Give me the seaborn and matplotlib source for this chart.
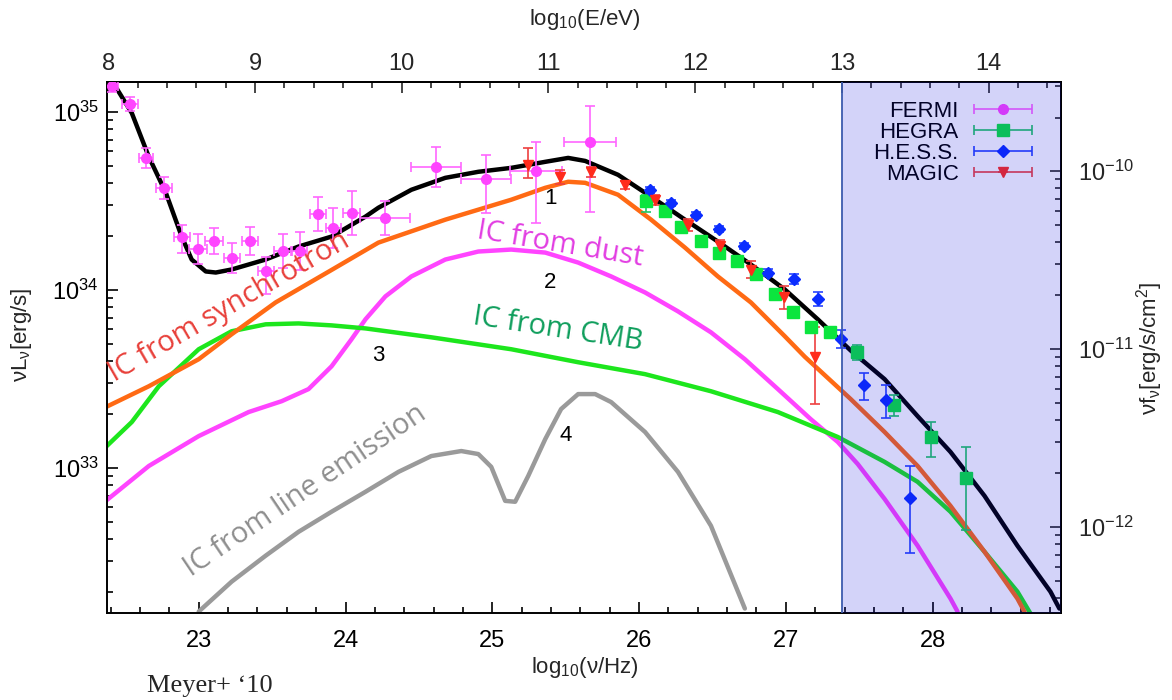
import numpy as np
import pandas as pd
import matplotlib
matplotlib.use("Agg")
import matplotlib.pyplot as plt
import seaborn as sns
from matplotlib.ticker import MultipleLocator, LogLocator, NullFormatter, FixedLocator
from matplotlib.container import ErrorbarContainer
from matplotlib.legend_handler import HandlerErrorbar

# ---------------------------------------------------------------------------
# Model components: log10(nu/Hz) and log10(nu L_nu / erg s^-1)
# ---------------------------------------------------------------------------
total_lognu = [22.410, 22.435, 22.544, 22.660, 22.776, 22.884, 22.952, 23.048, 23.116,
               23.224, 23.456, 23.680, 23.905, 24.136, 24.224, 24.449, 24.680, 24.905,
               25.129, 25.361, 25.517, 25.633, 25.857, 26.082, 26.313, 26.537, 26.762,
               26.993, 27.218, 27.442, 27.673, 27.898, 28.122, 28.354, 28.578, 28.803, 28.864]
total_logL = [35.180, 35.140, 34.994, 34.748, 34.546, 34.300, 34.171, 34.104, 34.098,
              34.115, 34.171, 34.244, 34.300, 34.412, 34.462, 34.563, 34.630, 34.664,
              34.686, 34.720, 34.742, 34.725, 34.647, 34.524, 34.395, 34.272, 34.143,
              34.003, 33.835, 33.660, 33.499, 33.291, 33.090, 32.843, 32.563, 32.305, 32.210]

sync_lognu = [22.367, 22.660, 23.000, 23.224, 23.524, 23.900, 24.224, 24.680, 25.129, 25.361,
              25.517, 25.633, 25.857, 26.082, 26.313, 26.537, 26.762, 26.993, 27.129,
              27.442, 27.673, 27.898, 28.122, 28.354, 28.578, 28.626]
sync_logL = [33.342, 33.459, 33.611, 33.751, 33.930, 34.110, 34.266, 34.395, 34.507, 34.574,
             34.608, 34.602, 34.535, 34.395, 34.238, 34.076, 33.930, 33.740, 33.625,
             33.387, 33.202, 33.011, 32.787, 32.529, 32.266, 32.193]

dust_lognu = [22.367, 22.660, 23.000, 23.340, 23.565, 23.748, 23.905, 24.041, 24.136,
              24.272, 24.449, 24.680, 24.905, 25.129, 25.361, 25.585, 25.810, 26.041,
              26.265, 26.490, 26.721, 26.946, 27.170, 27.354, 27.490, 27.673, 27.898,
              28.122, 28.170]
dust_logL = [32.815, 33.011, 33.179, 33.314, 33.375, 33.443, 33.571, 33.723, 33.835,
             33.964, 34.076, 34.171, 34.216, 34.227, 34.210, 34.154, 34.076, 33.986,
             33.880, 33.762, 33.611, 33.443, 33.274, 33.146, 33.022, 32.826, 32.563,
             32.266, 32.193]

cmb_lognu = [22.367, 22.544, 22.728, 23.000, 23.224, 23.456, 23.680, 23.905, 24.136,
             24.585, 25.129, 25.585, 26.041, 26.490, 26.946, 27.354, 27.673, 27.898,
             28.122, 28.354, 28.578, 28.667]
cmb_logL = [33.118, 33.258, 33.459, 33.667, 33.768, 33.807, 33.812, 33.801, 33.784,
            33.734, 33.667, 33.594, 33.527, 33.431, 33.314, 33.174, 33.034, 32.922,
            32.754, 32.529, 32.305, 32.182]

line_lognu = [23.000, 23.224, 23.456, 23.680, 23.905, 24.136, 24.361, 24.585, 24.789,
              24.905, 24.993, 25.088, 25.156, 25.245, 25.361, 25.469, 25.585, 25.701,
              25.810, 26.041, 26.265, 26.490, 26.721]
line_logL = [32.193, 32.361, 32.507, 32.641, 32.754, 32.866, 32.978, 33.067, 33.095,
             33.078, 33.006, 32.815, 32.810, 32.955, 33.162, 33.331, 33.415, 33.415,
             33.370, 33.202, 32.978, 32.675, 32.210]

# ---------------------------------------------------------------------------
# Measurements (log10 values; errors in dex / decades)
# ---------------------------------------------------------------------------
fermi_lognu = [22.408, 22.531, 22.639, 22.762, 22.884, 22.993, 23.102, 23.224, 23.347, 23.456,
               23.571, 23.687, 23.810, 23.918, 24.041, 24.272, 24.619, 24.959, 25.299, 25.667]
fermi_logL = [35.146, 35.045, 34.742, 34.574, 34.300, 34.232, 34.277, 34.182, 34.277, 34.109,
              34.221, 34.221, 34.429, 34.350, 34.434, 34.406, 34.692, 34.625, 34.669, 34.832]
fermi_dnu = [0.041, 0.054, 0.048, 0.054, 0.054, 0.061, 0.061, 0.054, 0.054, 0.054,
             0.061, 0.054, 0.054, 0.054, 0.061, 0.170, 0.170, 0.170, 0.177, 0.177]
fermi_lo = [0.034, 0.039, 0.056, 0.062, 0.095, 0.084, 0.073, 0.084, 0.078, 0.129,
            0.095, 0.106, 0.095, 0.112, 0.123, 0.095, 0.112, 0.190, 0.291, 0.392]
fermi_hi = [0.034, 0.039, 0.056, 0.062, 0.067, 0.084, 0.073, 0.084, 0.078, 0.078,
            0.095, 0.106, 0.095, 0.112, 0.123, 0.095, 0.112, 0.134, 0.162, 0.202]

hegra_lognu = [26.048, 26.177, 26.286, 26.422, 26.544, 26.667, 26.796, 26.925, 27.048,
               27.170, 27.299, 27.483, 27.735, 27.986, 28.231]
hegra_logL = [34.501, 34.445, 34.356, 34.277, 34.210, 34.160, 34.087, 33.975, 33.874,
              33.790, 33.762, 33.650, 33.353, 33.174, 32.944]
hegra_lo = [0.062, 0.020, 0.020, 0.020, 0.020, 0.020, 0.020, 0.020, 0.020,
            0.020, 0.020, 0.042, 0.062, 0.112, 0.291]
hegra_hi = [0.030, 0.020, 0.020, 0.020, 0.020, 0.020, 0.020, 0.020, 0.020,
            0.020, 0.020, 0.042, 0.056, 0.084, 0.174]

hess_lognu = [26.075, 26.218, 26.388, 26.544, 26.714, 26.878, 27.054, 27.218, 27.374,
              27.531, 27.680, 27.844]
hess_logL = [34.563, 34.490, 34.423, 34.345, 34.249, 34.098, 34.064, 33.947, 33.723,
             33.465, 33.381, 32.832]
hess_lo = [0.017, 0.017, 0.017, 0.017, 0.017, 0.022, 0.028, 0.039, 0.050, 0.084, 0.101, 0.308]
hess_hi = [0.017, 0.017, 0.017, 0.017, 0.017, 0.022, 0.028, 0.039, 0.050, 0.067, 0.084, 0.179]

magic_lognu = [25.245, 25.463, 25.673, 25.905, 26.109, 26.333, 26.551, 26.762, 26.986, 27.197]
magic_logL = [34.703, 34.636, 34.664, 34.591, 34.507, 34.367, 34.249, 34.115, 33.958, 33.622]
magic_lo = [0.073, 0.039, 0.028, 0.022, 0.028, 0.034, 0.034, 0.045, 0.067, 0.263]
magic_hi = [0.095, 0.039, 0.028, 0.022, 0.028, 0.034, 0.034, 0.045, 0.067, 0.168]

# axis tick values
nu_ticks = [23, 24, 25, 26, 27, 28]
energy_ticks = [8, 9, 10, 11, 12, 13, 14]
flux_ticks = [1e-12, 1e-11, 1e-10]

# log10(h / eV s): converts frequency to photon energy for the top axis
LOG_H_EV = -14.383
# log10 of the luminosity-to-flux factor (4 pi d^2) for the right axis
LOG_FLUX_FACTOR = 44.668
IACT_EDGE = 27.383  # log10(nu) corresponding to E = 10 TeV

component_names = ["4", "2", "3", "sync", "1"]
component_data = {
    "4": (line_lognu, line_logL),
    "2": (dust_lognu, dust_logL),
    "3": (cmb_lognu, cmb_logL),
    "sync": (sync_lognu, sync_logL),
    "1": (total_lognu, total_logL),
}
palette = {"4": "#9a9a9a", "2": "#ff44ff", "3": "#1de61d", "sync": "#ff6a14", "1": "#000000"}

frames = []
for name in component_names:
    lx, ly = component_data[name]
    frames.append(pd.DataFrame({"lognu": lx, "nuLnu": 10.0 ** np.asarray(ly),
                                "component": name}))
curves = pd.concat(frames, ignore_index=True)

# ---------------------------------------------------------------------------
sns.set_theme(style="ticks")
plt.rcParams["font.family"] = ["Liberation Sans", "DejaVu Sans"]
plt.rcParams["mathtext.fontset"] = "custom"
plt.rcParams["mathtext.rm"] = "Liberation Sans"
plt.rcParams["mathtext.it"] = "Liberation Sans:italic"
plt.rcParams["mathtext.default"] = "regular"
plt.rcParams["axes.unicode_minus"] = False

fig = plt.figure(figsize=(11.72, 7.0), dpi=100)
ax = fig.add_axes([107 / 1172, 1 - 613 / 700, (1061 - 107) / 1172, (613 - 82) / 700])
ax.set_yscale("log")
xlim = (22.375, 28.875)
ax.set_xlim(*xlim)
ax.set_ylim(10 ** 32.185, 10 ** 35.1685)

sns.lineplot(data=curves, x="lognu", y="nuLnu", hue="component", hue_order=component_names,
             palette=palette, units="component", estimator=None, sort=False,
             linewidth=3.2, legend=False, ax=ax, zorder=2)
ax.set_xlabel("")
ax.set_ylabel("")


def log_errorbar(lognu, logL, lo, hi, dnu=None, **kw):
    lognu = np.asarray(lognu)
    logL = np.asarray(logL)
    y = 10.0 ** logL
    yerr = [y - 10.0 ** (logL - np.asarray(lo)), 10.0 ** (logL + np.asarray(hi)) - y]
    return ax.errorbar(lognu, y, yerr=yerr, xerr=dnu, linestyle="none", zorder=3, **kw)


h_fermi = log_errorbar(fermi_lognu, fermi_logL, fermi_lo, fermi_hi, dnu=fermi_dnu,
                       marker="o", ms=7, color="#ff44ff", ecolor="#ff66ff",
                       elinewidth=1.2, capsize=3.5, capthick=1.2, label="FERMI")
h_hegra = log_errorbar(hegra_lognu, hegra_logL, hegra_lo, hegra_hi,
                       dnu=np.zeros(len(hegra_lognu)),
                       marker="s", ms=8.5, color="#0be53e", ecolor="#22c766",
                       elinewidth=1.2, capsize=3.5, capthick=1.2, label="HEGRA")
h_hess = log_errorbar(hess_lognu, hess_logL, hess_lo, hess_hi,
                      dnu=np.zeros(len(hess_lognu)),
                      marker="D", ms=6.5, color="#0b2dff", ecolor="#2844ff",
                      elinewidth=1.2, capsize=3.5, capthick=1.2, label="H.E.S.S.")
h_magic = log_errorbar(magic_lognu, magic_logL, magic_lo, magic_hi,
                       dnu=np.zeros(len(magic_lognu)),
                       marker="v", ms=7.5, color="#ff2b1c", ecolor="#ee4040",
                       elinewidth=1.2, capsize=3.5, capthick=1.2, label="MAGIC")

# IACT band above 10 TeV
ax.axvspan(IACT_EDGE, xlim[1], facecolor=(16 / 255, 16 / 255, 227 / 255), alpha=0.18,
           edgecolor="none", zorder=4)
ax.axvline(IACT_EDGE, color="#3d5cae", lw=1.3, zorder=4)

# ticks
ax.xaxis.set_major_locator(FixedLocator(nu_ticks))
ax.xaxis.set_minor_locator(MultipleLocator(0.2))
ax.yaxis.set_major_locator(LogLocator(base=10))
ax.yaxis.set_minor_locator(LogLocator(base=10, subs=np.arange(2, 10)))
ax.yaxis.set_minor_formatter(NullFormatter())
ax.tick_params(which="both", direction="in", top=False, right=False, colors="black",
               labelsize=17, width=1.2)
ax.tick_params(which="major", length=8)
ax.tick_params(which="minor", length=4)
ax.tick_params(axis="x", pad=12)
ax.tick_params(axis="y", pad=6)
for sp in ax.spines.values():
    sp.set_color("black")
    sp.set_linewidth(1.4)

top = ax.secondary_xaxis("top", functions=(lambda x: x + LOG_H_EV, lambda e: e - LOG_H_EV))
top.xaxis.set_major_locator(FixedLocator(energy_ticks))
top.xaxis.set_minor_locator(MultipleLocator(0.2))
top.tick_params(which="both", direction="in", labelsize=17, width=1.2, pad=5)
top.tick_params(which="major", length=8)
top.tick_params(which="minor", length=4)

right = ax.secondary_yaxis("right", functions=(lambda L: L / 10 ** LOG_FLUX_FACTOR,
                                               lambda f: f * 10 ** LOG_FLUX_FACTOR))
right.yaxis.set_major_locator(FixedLocator(flux_ticks))
right.yaxis.set_minor_locator(LogLocator(base=10, subs=np.arange(2, 10)))
right.yaxis.set_minor_formatter(NullFormatter())
right.tick_params(which="both", direction="in", labelsize=17, width=1.2, pad=12)
right.tick_params(which="major", length=8)
right.tick_params(which="minor", length=4)

# axis titles
fig.text(585 / 1172, 1 - 667 / 700, r"log$_{10}$(ν/Hz)", ha="center", va="center", fontsize=16)
fig.text(585 / 1172, 1 - 19 / 700, r"log$_{10}$(E/eV)", ha="center", va="center", fontsize=16)
fig.text(22 / 1172, 1 - 335 / 700, r"νL$_{ν}$[erg/s]", ha="center", va="center",
         rotation=90, fontsize=16)
fig.text(1150 / 1172, 1 - 348 / 700, r"νf$_{ν}$[erg/s/cm$^{2}$]", ha="center", va="center",
         rotation=90, fontsize=16)
fig.text(147 / 1172, 1 - 686 / 700, "Meyer+ \u201810", ha="left", va="center",
         fontsize=19, family="Liberation Serif")

# component annotations
lab_kw = dict(ha="center", va="center", rotation_mode="anchor", family="Open Sans",
              fontsize=21, zorder=3)
ax.text(25.463, 10 ** 34.255, "IC from dust", color="#e23de2", rotation=-9.5, **lab_kw)
ax.text(25.449, 10 ** 33.779, "IC from CMB", color="#0f9e5c", rotation=-8.7, **lab_kw)
ax.text(23.204, 10 ** 33.902, "IC from synchrotron", color="#e8403a", rotation=30, **lab_kw)
ax.text(23.728, 10 ** 32.871, "IC from line emission", color="#8e8e8e", rotation=34, **lab_kw)

num_kw = dict(ha="center", va="center", fontsize=16, color="black", zorder=3)
ax.text(25.395, 10 ** 34.513, "1", **num_kw)
ax.text(25.395, 10 ** 34.042, "2", **num_kw)
ax.text(24.224, 10 ** 33.633, "3", **num_kw)
ax.text(25.497, 10 ** 33.185, "4", **num_kw)

leg = ax.legend(handles=[h_fermi, h_hegra, h_hess, h_magic], loc="upper right",
                bbox_to_anchor=(1043 / 1172, 1 - 90 / 700), bbox_transform=fig.transFigure,
                frameon=False, markerfirst=False, numpoints=1, fontsize=16,
                handlelength=2.6, handletextpad=0.7, labelspacing=0.0, borderpad=0,
                handler_map={ErrorbarContainer: HandlerErrorbar(xerr_size=1.3, yerr_size=0.0)})
leg.set_zorder(3)
for t in leg.get_texts():
    t.set_color("black")

fig.savefig("out.png", dpi=100)
